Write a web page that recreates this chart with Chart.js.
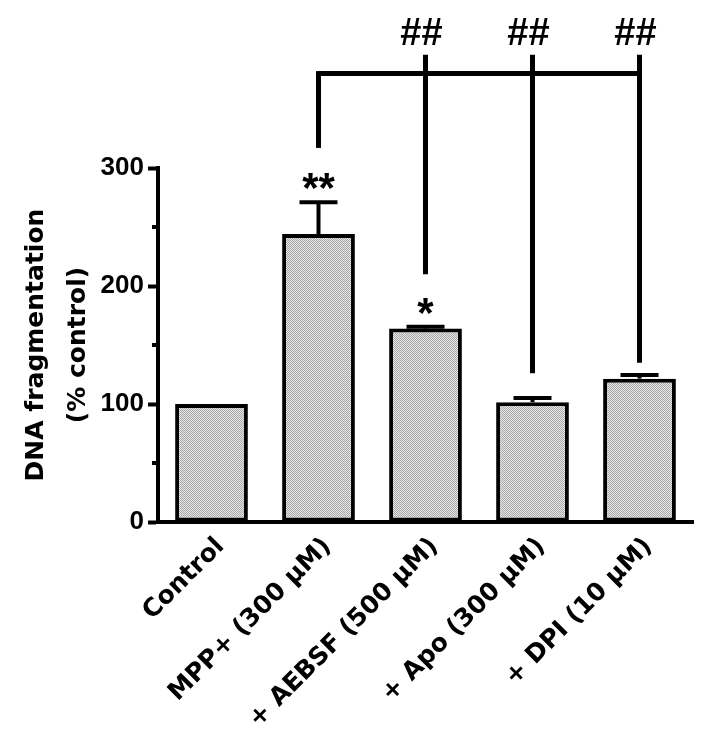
<!DOCTYPE html>
<html>
<head>
<meta charset="utf-8">
<script src="https://cdn.jsdelivr.net/npm/chart.js@4.4.1/dist/chart.umd.min.js"></script>
<style>
  html, body { margin: 0; padding: 0; background: #fff; }
  #chart { display: block; }
</style>
</head>
<body>
<canvas id="chart" width="708" height="730"></canvas>
<script>
// DNA fragmentation bars (% control)

const categories = ['Control', 'MPP+ (300 μM)', '+ AEBSF (500 μM)', '+ Apo (300 μM)', '+ DPI (10 μM)'];
const meanValues = [100, 244, 164, 101.5, 121.5];
const semValues = [0, 27, 1.5, 3.5, 3];
const starMarks = ['', '**', '*', '', ''];
const hashMarks = ['', '', '##', '##', '##'];
// bracket legs (data units): lower end of each leg, null = no leg
const bracketLegEnds = [null, 317, 210, 126, 135];
const bracketLevel = 380;
const bracketLegTop = 396;
const hashLevel = 416;
const yMajorTicks = [0, 100, 200, 300];
const yMinorTicks = [50, 150, 250];

// dotted grey fill like the original
function makeFill() {
    const pc = document.createElement('canvas');
    pc.width = 2; pc.height = 2;
    const p = pc.getContext('2d');
    p.fillStyle = '#e6e6e6'; p.fillRect(0, 0, 2, 2);
    p.fillStyle = '#a8a8a8'; p.fillRect(0, 0, 1, 1); p.fillRect(1, 1, 1, 1);
    return p.createPattern(pc, 'repeat');
}

function centeredText(ctx, txt, x, yc) {
    const m = ctx.measureText(txt);
    ctx.fillText(txt, x, yc + (m.actualBoundingBoxAscent - m.actualBoundingBoxDescent) / 2);
}

const extras = {
    id: 'extras',
    afterDraw(chart) {
        const ctx = chart.ctx, y = chart.scales.y, area = chart.chartArea;
        const bars = chart.getDatasetMeta(0).data;
        ctx.save();
        ctx.strokeStyle = '#000';
        ctx.fillStyle = '#000';
        ctx.lineCap = 'butt';

        // minor y ticks
        ctx.lineWidth = 4;
        yMinorTicks.forEach(v => {
            const py = y.getPixelForValue(v);
            ctx.beginPath(); ctx.moveTo(area.left - 6, py); ctx.lineTo(area.left, py); ctx.stroke();
        });

        // error bars (upper only)
        semValues.forEach((e, i) => {
            if (!e) return;
            const x = bars[i].x;
            const top = y.getPixelForValue(meanValues[i] + e);
            const base = y.getPixelForValue(meanValues[i]);
            ctx.lineWidth = 4;
            ctx.beginPath(); ctx.moveTo(x, base); ctx.lineTo(x, top); ctx.stroke();
            ctx.beginPath(); ctx.moveTo(x - 19, top); ctx.lineTo(x + 19, top); ctx.stroke();
        });

        // stars above error bars
        ctx.textAlign = 'center';
        ctx.font = 'bold 42px "Liberation Sans", Arial, sans-serif';
        starMarks.forEach((s, i) => {
            if (!s) return;
            const top = y.getPixelForValue(meanValues[i] + semValues[i]);
            centeredText(ctx, s, bars[i].x, top - 21);
        });

        // bracket
        const legs = bracketLegEnds.map((v, i) => v == null ? null : i).filter(i => i != null);
        const lvl = y.getPixelForValue(bracketLevel);
        const legTop = y.getPixelForValue(bracketLegTop);
        ctx.lineWidth = 5;
        ctx.beginPath();
        ctx.moveTo(bars[legs[0]].x, lvl);
        ctx.lineTo(bars[legs[legs.length - 1]].x, lvl);
        ctx.stroke();
        legs.forEach((i, k) => {
            const x = bars[i].x;
            const start = k === 0 ? lvl - 2.5 : legTop;
            ctx.beginPath(); ctx.moveTo(x, start); ctx.lineTo(x, y.getPixelForValue(bracketLegEnds[i])); ctx.stroke();
        });

        // hash marks
        ctx.font = 'bold 38px "Liberation Sans", Arial, sans-serif';
        hashMarks.forEach((h, i) => {
            if (!h) return;
            centeredText(ctx, h, bars[i].x - 4, y.getPixelForValue(hashLevel));
        });
        ctx.restore();
    }
};

new Chart(document.getElementById('chart'), {
    type: 'bar',
    data: {
        labels: categories,
        datasets: [{
            data: meanValues,
            backgroundColor: makeFill(),
            borderColor: '#000',
            borderWidth: 4,
            borderSkipped: false,
            categoryPercentage: 1,
            barPercentage: 0.68
        }]
    },
    options: {
        responsive: false,
        animation: false,
        events: [],
        layout: { padding: { top: 168, right: 15, left: 0, bottom: 0 } },
        plugins: { legend: { display: false }, tooltip: { enabled: false } },
        scales: {
            x: {
                grid: { display: false },
                border: { display: true, color: '#000', width: 4 },
                ticks: {
                    color: '#000', autoSkip: false, maxRotation: 45, minRotation: 45, padding: 2, labelOffset: 9,
                    font: { family: '"DejaVu Sans", sans-serif', weight: 'bold', size: 25 }
                },
                afterFit(s) { s.height = 208; }
            },
            y: {
                min: 0, max: 300,
                afterBuildTicks(s) { s.ticks = yMajorTicks.map(v => ({ value: v })); },
                grid: { display: true, drawOnChartArea: false, tickLength: 10, tickWidth: 4, tickColor: '#000' },
                border: { display: true, color: '#000', width: 4 },
                ticks: {
                    color: '#000', padding: 4,
                    font: { family: '"Liberation Sans", Arial, sans-serif', weight: 'bold', size: 26 }
                },
                title: {
                    display: true,
                    text: ['DNA fragmentation', '(% control)'],
                    color: '#000',
                    font: { family: '"DejaVu Sans", sans-serif', weight: 'bold', size: 25, lineHeight: 1.7 },
                    padding: { top: 15, bottom: 0 }
                },
                afterFit(s) { s.width = 158; }
            }
        }
    },
    plugins: [extras]
});
</script>
</body>
</html>
